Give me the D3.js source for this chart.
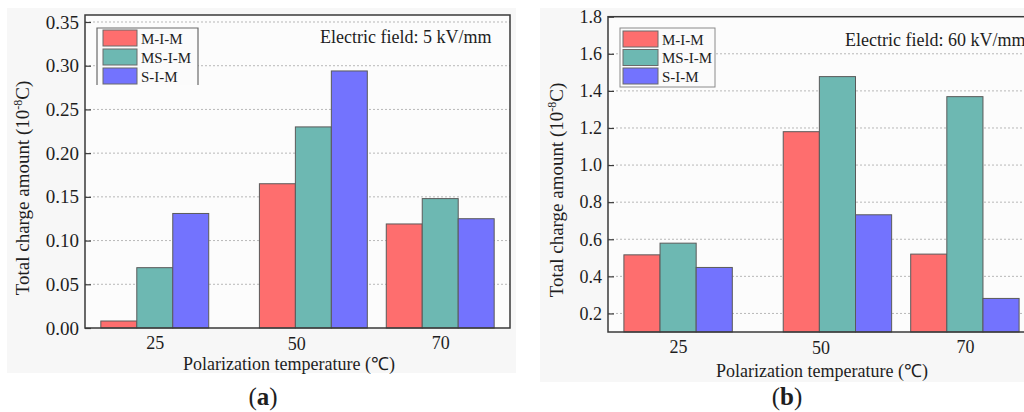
<!DOCTYPE html>
<html>
<head>
<meta charset="utf-8">
<script src="https://cdn.jsdelivr.net/npm/d3@7/dist/d3.min.js"></script>
<style>
  html, body { margin: 0; padding: 0; background: #ffffff; }
  svg { display: block; }
  text { font-family: "Liberation Serif", "Times New Roman", serif; fill: #1e1e1e; }
</style>
</head>
<body>
<svg id="chart" width="1024" height="412"></svg>
<script>
// ---- data ----
const categories = [25, 50, 70];
const seriesNames = ["M-I-M", "MS-I-M", "S-I-M"];
const seriesColors = ["#FE6E6E", "#6DB8B2", "#7373FE"];

// (a) Electric field 5 kV/mm
const aMIM  = [0.008, 0.165, 0.119];
const aMSIM = [0.069, 0.230, 0.148];
const aSIM  = [0.131, 0.294, 0.125];
const aTicks = [0.00, 0.05, 0.10, 0.15, 0.20, 0.25, 0.30, 0.35];
const aTickLabels = ["0.00", "0.05", "0.10", "0.15", "0.20", "0.25", "0.30", "0.35"];

// (b) Electric field 60 kV/mm
const bMIM  = [0.516, 1.180, 0.520];
const bMSIM = [0.579, 1.477, 1.369];
const bSIM  = [0.448, 0.732, 0.281];
const bTicks = [0.2, 0.4, 0.6, 0.8, 1.0, 1.2, 1.4, 1.6, 1.8];
const bTickLabels = ["0.2", "0.4", "0.6", "0.8", "1.0", "1.2", "1.4", "1.6", "1.8"];

const xTickLabels = ["25", "50", "70"];

const svg = d3.select("#chart");

function drawPanel(cfg) {
  const g = svg.append("g");
  // panel background
  g.append("rect").attr("x", cfg.panel[0]).attr("y", cfg.panel[1])
    .attr("width", cfg.panel[2]).attr("height", cfg.panel[3]).attr("fill", "#f7f7f7");

  const x = d3.scaleLinear().domain([14, 81]).range([cfg.left, cfg.right]);
  const y = d3.scaleLinear().domain(cfg.yDomain).range([cfg.bottom, cfg.top]);

  // plot background
  g.append("rect").attr("x", cfg.left).attr("y", cfg.top)
    .attr("width", cfg.right - cfg.left).attr("height", cfg.bottom - cfg.top).attr("fill", "#fcfcfc");

  // grid
  g.append("g").selectAll("line").data(cfg.ticks.filter(t => y(t) > cfg.top + 2 && y(t) < cfg.bottom - 2))
    .join("line")
    .attr("x1", cfg.left).attr("x2", cfg.right)
    .attr("y1", d => y(d)).attr("y2", d => y(d))
    .attr("stroke", "#b8b8b8").attr("stroke-width", 1).attr("stroke-dasharray", "2,2");

  // bars
  const bw = 5.67;
  cfg.series.forEach((vals, i) => {
    g.append("g").selectAll("rect").data(vals.map((v, j) => ({ v, c: categories[j] })))
      .join("rect")
      .attr("x", d => x(d.c + (i - 1.5) * bw))
      .attr("width", d => x(d.c + (i - 0.5) * bw) - x(d.c + (i - 1.5) * bw))
      .attr("y", d => y(d.v))
      .attr("height", d => y(cfg.yDomain[0]) - y(d.v))
      .attr("fill", seriesColors[i])
      .attr("stroke", "#5a5a5a").attr("stroke-width", 1);
  });

  // frame
  g.append("rect").attr("x", cfg.left).attr("y", cfg.top)
    .attr("width", cfg.right - cfg.left).attr("height", cfg.bottom - cfg.top)
    .attr("fill", "none").attr("stroke", "#3a3a3a").attr("stroke-width", 1.5);

  // y axis
  const yAxis = d3.axisLeft(y).tickValues(cfg.ticks)
    .tickFormat((d, i) => cfg.tickLabels[i]).tickSize(-6).tickPadding(6);
  const ya = g.append("g").attr("transform", `translate(${cfg.left},0)`).call(yAxis);
  ya.select(".domain").remove();
  ya.selectAll("line").attr("stroke", "#3a3a3a").attr("stroke-width", 1.2);
  ya.selectAll("text").style("font-family", "'Liberation Serif', serif").style("font-size", cfg.yTickFont).attr("fill", "#1e1e1e");

  // x axis labels (no tick marks)
  const xAxis = d3.axisBottom(x).tickValues(categories)
    .tickFormat((d, i) => xTickLabels[i]).tickSize(0).tickPadding(cfg.xPad);
  const xa = g.append("g").attr("transform", `translate(0,${cfg.bottom})`).call(xAxis);
  xa.select(".domain").remove();
  xa.selectAll("text").style("font-family", "'Liberation Serif', serif").style("font-size", "18px").attr("fill", "#1e1e1e")
    .attr("dx", d => d === 50 ? -17 : 0)
    .attr("dy", d => d === 50 ? "0.86em" : "0.8em");

  // legend
  const lg = g.append("g");
  const lb = cfg.legendBox;
  if (cfg.legendBottom) {
    lg.append("rect").attr("x", lb[0]).attr("y", lb[1]).attr("width", lb[2]).attr("height", lb[3])
      .attr("fill", "#fbfbfb").attr("stroke", "#8a8a8a").attr("stroke-width", 1);
  } else {
    lg.append("rect").attr("x", lb[0]).attr("y", lb[1]).attr("width", lb[2]).attr("height", lb[3])
      .attr("fill", "#fbfbfb");
    lg.append("path").attr("d", `M${lb[0]},${lb[1] + lb[3]}V${lb[1]}H${lb[0] + lb[2]}V${lb[1] + lb[3]}`)
      .attr("fill", "none").attr("stroke", "#6a6a6a").attr("stroke-width", 1.2);
  }
  seriesNames.forEach((name, i) => {
    const ry = cfg.legendRow0 + i * cfg.legendStep;
    lg.append("rect").attr("x", cfg.swatchX).attr("y", ry).attr("width", cfg.swatchW).attr("height", 16)
      .attr("fill", seriesColors[i]).attr("stroke", "#6a6a6a").attr("stroke-width", 1);
    lg.append("text").attr("x", cfg.swatchX + cfg.swatchW + 4).attr("y", ry + 13.5)
      .style("font-size", "15px").text(name);
  });

  // annotation
  g.append("text").attr("x", cfg.annot[0]).attr("y", cfg.annot[1])
    .style("font-size", "18px").text(cfg.annotText);

  // y title
  const yt = g.append("text")
    .attr("transform", `translate(${cfg.yTitle[0]},${cfg.yTitle[1]}) rotate(-90)`)
    .attr("text-anchor", "middle").style("font-size", "19px");
  yt.append("tspan").text("Total charge amount (10");
  yt.append("tspan").attr("baseline-shift", "super").style("font-size", "12px").text("-8");
  yt.append("tspan").text("C)");

  // x title
  g.append("text").attr("x", cfg.xTitle[0]).attr("y", cfg.xTitle[1])
    .attr("text-anchor", "middle").style("font-size", "18px")
    .text("Polarization temperature (\u2103)");

  // panel label
  const pl = g.append("text").attr("x", cfg.label[0]).attr("y", cfg.label[1])
    .attr("text-anchor", "middle").style("font-size", "25px");
  pl.append("tspan").text("(");
  pl.append("tspan").style("font-weight", "bold").text(cfg.labelText);
  pl.append("tspan").text(")");
}

drawPanel({
  panel: [7, 8, 509, 365],
  left: 85, right: 510, top: 15, bottom: 328,
  yDomain: [0, 0.358],
  ticks: aTicks, tickLabels: aTickLabels, yTickFont: "19px",
  series: [aMIM, aMSIM, aSIM],
  xPad: 7,
  legendBox: [97, 28, 101, 57], legendBottom: false,
  swatchX: 103, swatchW: 34, legendRow0: 30, legendStep: 19,
  annot: [320, 43], annotText: "Electric field: 5 kV/mm",
  yTitle: [29, 188],
  xTitle: [289, 370],
  label: [263, 405], labelText: "a"
});

drawPanel({
  panel: [540, 8, 484, 374],
  left: 608, right: 1035, top: 16.7, bottom: 332,
  yDomain: [0.1, 1.8],
  ticks: bTicks, tickLabels: bTickLabels, yTickFont: "18px",
  series: [bMIM, bMSIM, bSIM],
  xPad: 7,
  legendBox: [620, 28, 95, 59], legendBottom: true,
  swatchX: 623, swatchW: 35, legendRow0: 31, legendStep: 18.5,
  annot: [845, 46], annotText: "Electric field: 60 kV/mm",
  yTitle: [563, 190],
  xTitle: [822, 377],
  label: [787, 405], labelText: "b"
});
</script>
</body>
</html>
